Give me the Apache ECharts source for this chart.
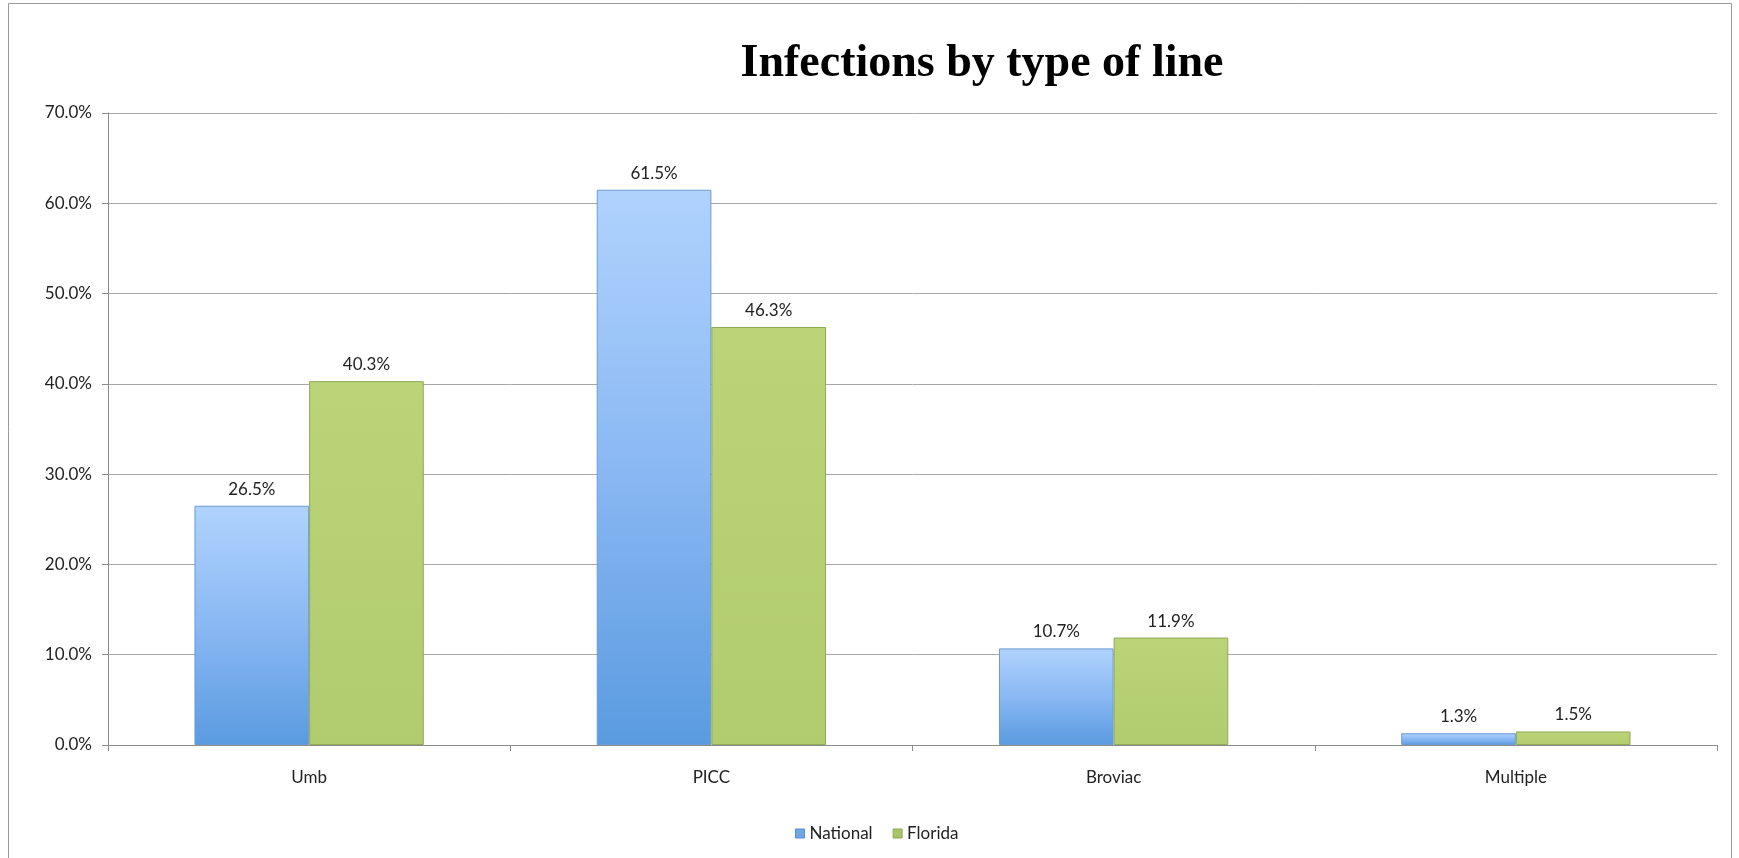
<!DOCTYPE html>
<html>
<head>
<meta charset="utf-8">
<style>
  html, body { margin: 0; padding: 0; background: #fff; }
  #chart { width: 1739px; height: 858px; }
</style>
<script src="https://cdn.jsdelivr.net/npm/echarts@6/dist/echarts.min.js"></script>
</head>
<body>
<div id="chart"></div>
<script>
// Line types and infection shares (%)
const categories = ['Umb', 'PICC', 'Broviac', 'Multiple'];
const national = [26.5, 61.5, 10.7, 1.3];
const florida = [40.3, 46.3, 11.9, 1.5];
const yTicks = [0, 10, 20, 30, 40, 50, 60, 70];

const chart = echarts.init(document.getElementById('chart'));
const labelFont = 'Lato, "Open Sans", sans-serif';

const blueFill = new echarts.graphic.LinearGradient(0, 0, 0, 1, [
  { offset: 0, color: '#b0d3fd' },
  { offset: 0.5, color: '#8ab8f3' },
  { offset: 1, color: '#5a9be0' }
]);
const greenFill = new echarts.graphic.LinearGradient(0, 0, 0, 1, [
  { offset: 0, color: '#bad477' },
  { offset: 1, color: '#b1cb6f' }
]);

function valueLabel() {
  return {
    show: true,
    position: 'top',
    distance: 8,
    color: '#222',
    fontFamily: labelFont,
    fontSize: 17,
    formatter: p => p.value.toFixed(1) + '%'
  };
}

chart.setOption({
  backgroundColor: '#fff',
  animation: false,
  title: {
    text: 'Infections by type of line',
    left: 977,
    textAlign: 'center',
    top: 36,
    textStyle: {
      fontFamily: '"Liberation Serif", "Times New Roman", serif',
      fontWeight: 'bold',
      fontSize: 46,
      color: '#000'
    }
  },
  graphic: [{
    type: 'rect',
    shape: { x: 8.5, y: 3.5, width: 1723, height: 900 },
    style: { fill: 'none', stroke: '#9a9a9a', lineWidth: 1 },
    silent: true,
    z: -1
  }],
  legend: {
    bottom: 11,
    left: 790,
    itemWidth: 9,
    itemHeight: 9,
    itemGap: 20,
    textStyle: { fontFamily: labelFont, fontSize: 17, color: '#222' },
    data: [
      { name: 'National', icon: 'rect', itemStyle: { color: '#6fa7e6', borderColor: '#5a8fcf', borderWidth: 1 } },
      { name: 'Florida', icon: 'rect', itemStyle: { color: '#a9c46a', borderColor: '#8fa955', borderWidth: 1 } }
    ]
  },
  grid: { left: 108, right: 22, top: 113, bottom: 113 },
  xAxis: {
    type: 'category',
    data: categories,
    axisLine: { lineStyle: { color: '#8c8c8c', width: 1 } },
    axisTick: { show: true, length: 6, lineStyle: { color: '#8c8c8c' } },
    axisLabel: { margin: 24, color: '#222', fontFamily: labelFont, fontSize: 17 }
  },
  yAxis: {
    type: 'value',
    min: yTicks[0],
    max: yTicks[yTicks.length - 1],
    interval: 10,
    axisLine: { show: true, lineStyle: { color: '#8c8c8c', width: 1 } },
    axisTick: { show: true, length: 6, lineStyle: { color: '#8c8c8c' } },
    axisLabel: {
      margin: 16,
      color: '#222',
      fontFamily: labelFont,
      fontSize: 17,
      formatter: v => v.toFixed(1) + '%'
    },
    splitLine: { lineStyle: { color: '#a8a8a8', width: 1 } }
  },
  series: [
    {
      name: 'National',
      type: 'bar',
      data: national,
      barGap: '0%',
      barCategoryGap: '43%',
      itemStyle: { color: blueFill, borderColor: '#6a9bd3', borderWidth: 1 },
      label: valueLabel()
    },
    {
      name: 'Florida',
      type: 'bar',
      data: florida,
      itemStyle: { color: greenFill, borderColor: '#8fa955', borderWidth: 1 },
      label: valueLabel()
    }
  ]
});
</script>
</body>
</html>
